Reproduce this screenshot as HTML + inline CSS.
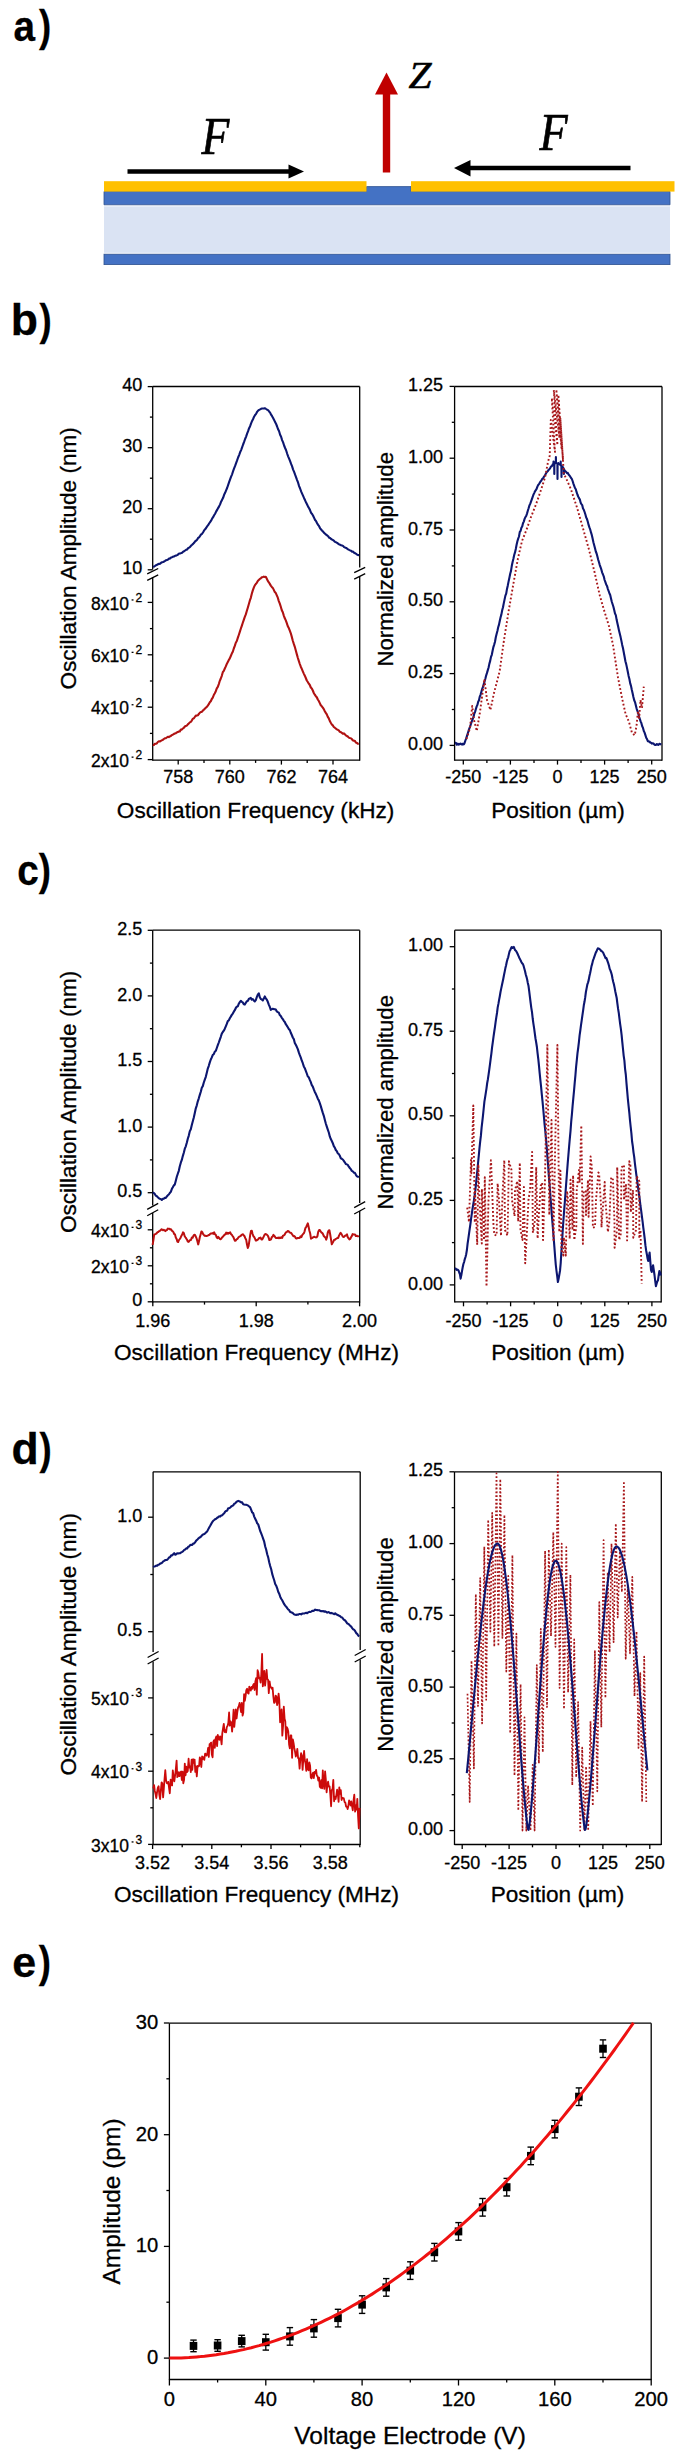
<!DOCTYPE html><html><head><meta charset="utf-8"><style>html,body{margin:0;padding:0;background:#fff;}svg{display:block}</style></head><body>
<svg width="685" height="2457" viewBox="0 0 685 2457" font-family='"Liberation Sans", sans-serif'>
<style>text{stroke:#000;stroke-width:0.3px;}</style>
<rect width="685" height="2457" fill="#fff"/>
<text font-size="43" font-weight="bold" transform="translate(13.4,40.6) scale(0.9,1)">a</text>
<text font-size="44.5" font-weight="bold" transform="translate(39.1,40.6) scale(0.82,1)">)</text>
<text font-size="44.5" font-weight="bold" transform="translate(10.7,335.3) scale(1.0,1)">b</text>
<text font-size="44.5" font-weight="bold" transform="translate(39.4,335.3) scale(0.82,1)">)</text>
<text font-size="43" font-weight="bold" transform="translate(17.2,885.0) scale(0.9,1)">c</text>
<text font-size="44.5" font-weight="bold" transform="translate(38.7,885.0) scale(0.82,1)">)</text>
<text font-size="44.5" font-weight="bold" transform="translate(11.6,1463.5) scale(1.0,1)">d</text>
<text font-size="44.5" font-weight="bold" transform="translate(39.4,1463.5) scale(0.82,1)">)</text>
<text font-size="43" font-weight="bold" transform="translate(12.2,1977.4) scale(1.0,1)">e</text>
<text font-size="44.5" font-weight="bold" transform="translate(38.7,1977.4) scale(0.82,1)">)</text>
<g>
<rect x="104" y="206.4" width="566" height="46.4" fill="#dae3f3"/>
<rect x="104" y="254.2" width="566" height="10.4" fill="#4472c4" stroke="#2f528f" stroke-width="0.8"/>
<path d="M104,191.5 H366.5 V186.6 H411 V191.5 H670 V204.8 H104 Z" fill="#4472c4" stroke="#2f528f" stroke-width="0.8"/>
<rect x="104" y="181.2" width="262.5" height="10.4" fill="#ffc000"/>
<rect x="411" y="181.2" width="263.5" height="10.4" fill="#ffc000"/>
<line x1="127.5" y1="171.5" x2="292" y2="171.5" stroke="#000" stroke-width="4.6"/>
<path d="M304,171.5 L288.5,164.5 L288.5,178.5 Z" fill="#000"/>
<line x1="630.5" y1="168" x2="468" y2="168" stroke="#000" stroke-width="4.6"/>
<path d="M454,168 L470.5,160 L470.5,176.5 Z" fill="#000"/>
<rect x="382.8" y="93" width="7.4" height="79.5" fill="#c00000"/>
<path d="M386.5,72.5 L375,94.5 L398,94.5 Z" fill="#c00000"/>
<text transform="translate(201.4,153.6) scale(0.875,1)" font-family="'Liberation Serif', serif" font-style="italic" font-size="52" style="stroke-width:0.7px">F</text>
<text transform="translate(539.5,149.6) scale(0.885,1)" font-family="'Liberation Serif', serif" font-style="italic" font-size="52" style="stroke-width:0.7px">F</text>
<text transform="translate(408.6,88) scale(1.09,1)" font-family="'Liberation Serif', serif" font-style="italic" font-size="38" style="stroke-width:0.6px">Z</text>
</g>
<line x1="152.7" y1="386.5" x2="359.7" y2="386.5" stroke="#000" stroke-width="1.3"/>
<line x1="152.7" y1="760.1" x2="359.7" y2="760.1" stroke="#000" stroke-width="1.3"/>
<line x1="152.7" y1="386.5" x2="152.7" y2="569.5" stroke="#000" stroke-width="1.3"/>
<line x1="152.7" y1="577" x2="152.7" y2="760.7" stroke="#000" stroke-width="1.3"/>
<line x1="359.7" y1="386.5" x2="359.7" y2="567.5" stroke="#000" stroke-width="1.3"/>
<line x1="359.7" y1="576.5" x2="359.7" y2="760.7" stroke="#000" stroke-width="1.3"/>
<line x1="147.2" y1="573.9" x2="158.2" y2="568.5" stroke="#000" stroke-width="1.3"/>
<line x1="147.2" y1="580.3" x2="158.2" y2="574.9" stroke="#000" stroke-width="1.3"/>
<line x1="354.2" y1="572.7" x2="365.2" y2="567.3" stroke="#000" stroke-width="1.3"/>
<line x1="354.2" y1="579.1" x2="365.2" y2="573.7" stroke="#000" stroke-width="1.3"/>
<line x1="147.7" y1="386.6" x2="152.7" y2="386.6" stroke="#000" stroke-width="1.3"/>
<line x1="147.7" y1="447.7" x2="152.7" y2="447.7" stroke="#000" stroke-width="1.3"/>
<line x1="147.7" y1="508.7" x2="152.7" y2="508.7" stroke="#000" stroke-width="1.3"/>
<line x1="147.7" y1="569.8" x2="152.7" y2="569.8" stroke="#000" stroke-width="1.3"/>
<line x1="149.9" y1="417.1" x2="152.7" y2="417.1" stroke="#000" stroke-width="1.3"/>
<line x1="149.9" y1="478.2" x2="152.7" y2="478.2" stroke="#000" stroke-width="1.3"/>
<line x1="149.9" y1="539.2" x2="152.7" y2="539.2" stroke="#000" stroke-width="1.3"/>
<line x1="147.7" y1="602.4" x2="152.7" y2="602.4" stroke="#000" stroke-width="1.3"/>
<line x1="147.7" y1="654.8" x2="152.7" y2="654.8" stroke="#000" stroke-width="1.3"/>
<line x1="147.7" y1="707.2" x2="152.7" y2="707.2" stroke="#000" stroke-width="1.3"/>
<line x1="147.7" y1="759.6" x2="152.7" y2="759.6" stroke="#000" stroke-width="1.3"/>
<line x1="149.9" y1="628.6" x2="152.7" y2="628.6" stroke="#000" stroke-width="1.3"/>
<line x1="149.9" y1="681" x2="152.7" y2="681" stroke="#000" stroke-width="1.3"/>
<line x1="149.9" y1="733.4" x2="152.7" y2="733.4" stroke="#000" stroke-width="1.3"/>
<text x="142.3" y="391.2" font-size="18.0" text-anchor="end" >40</text>
<text x="142.3" y="452.3" font-size="18.0" text-anchor="end" >30</text>
<text x="142.3" y="513.3" font-size="18.0" text-anchor="end" >20</text>
<text x="142.3" y="574.4" font-size="18.0" text-anchor="end" >10</text>
<text x="129" y="609.5" font-size="17.5" text-anchor="end">8x10</text>
<rect x="131.6" y="599.3" width="1.9" height="1.3" fill="#000"/>
<text x="135.4" y="601.9" font-size="12">2</text>
<text x="129" y="661.9" font-size="17.5" text-anchor="end">6x10</text>
<rect x="131.6" y="651.7" width="1.9" height="1.3" fill="#000"/>
<text x="135.4" y="654.3" font-size="12">2</text>
<text x="129" y="714.3" font-size="17.5" text-anchor="end">4x10</text>
<rect x="131.6" y="704.1" width="1.9" height="1.3" fill="#000"/>
<text x="135.4" y="706.7" font-size="12">2</text>
<text x="129" y="766.7" font-size="17.5" text-anchor="end">2x10</text>
<rect x="131.6" y="756.5" width="1.9" height="1.3" fill="#000"/>
<text x="135.4" y="759.1" font-size="12">2</text>
<line x1="178.2" y1="760.1" x2="178.2" y2="764.6" stroke="#000" stroke-width="1.3"/>
<line x1="229.8" y1="760.1" x2="229.8" y2="764.6" stroke="#000" stroke-width="1.3"/>
<line x1="281.4" y1="760.1" x2="281.4" y2="764.6" stroke="#000" stroke-width="1.3"/>
<line x1="333" y1="760.1" x2="333" y2="764.6" stroke="#000" stroke-width="1.3"/>
<line x1="204" y1="760.1" x2="204" y2="762.9" stroke="#000" stroke-width="1.3"/>
<line x1="255.6" y1="760.1" x2="255.6" y2="762.9" stroke="#000" stroke-width="1.3"/>
<line x1="307.2" y1="760.1" x2="307.2" y2="762.9" stroke="#000" stroke-width="1.3"/>
<text x="178.2" y="783.4" font-size="18.0" text-anchor="middle" >758</text>
<text x="229.8" y="783.4" font-size="18.0" text-anchor="middle" >760</text>
<text x="281.4" y="783.4" font-size="18.0" text-anchor="middle" >762</text>
<text x="333" y="783.4" font-size="18.0" text-anchor="middle" >764</text>
<text x="255.6" y="817.8" font-size="22.6" text-anchor="middle">Oscillation Frequency (kHz)</text>
<text transform="translate(76.3,558.4) rotate(-90)" x="0" y="0" font-size="22.6" text-anchor="middle">Oscillation Amplitude (nm)</text>
<line x1="454.6" y1="386.5" x2="662" y2="386.5" stroke="#000" stroke-width="1.3"/>
<line x1="454.6" y1="760.1" x2="662" y2="760.1" stroke="#000" stroke-width="1.3"/>
<line x1="454.6" y1="386.5" x2="454.6" y2="760.7" stroke="#000" stroke-width="1.3"/>
<line x1="662" y1="386.5" x2="662" y2="760.7" stroke="#000" stroke-width="1.3"/>
<line x1="449.6" y1="745.4" x2="454.6" y2="745.4" stroke="#000" stroke-width="1.3"/>
<line x1="449.6" y1="673.6" x2="454.6" y2="673.6" stroke="#000" stroke-width="1.3"/>
<line x1="449.6" y1="601.8" x2="454.6" y2="601.8" stroke="#000" stroke-width="1.3"/>
<line x1="449.6" y1="530" x2="454.6" y2="530" stroke="#000" stroke-width="1.3"/>
<line x1="449.6" y1="458.2" x2="454.6" y2="458.2" stroke="#000" stroke-width="1.3"/>
<line x1="449.6" y1="386.4" x2="454.6" y2="386.4" stroke="#000" stroke-width="1.3"/>
<line x1="451.8" y1="709.5" x2="454.6" y2="709.5" stroke="#000" stroke-width="1.3"/>
<line x1="451.8" y1="637.7" x2="454.6" y2="637.7" stroke="#000" stroke-width="1.3"/>
<line x1="451.8" y1="565.9" x2="454.6" y2="565.9" stroke="#000" stroke-width="1.3"/>
<line x1="451.8" y1="494.1" x2="454.6" y2="494.1" stroke="#000" stroke-width="1.3"/>
<line x1="451.8" y1="422.3" x2="454.6" y2="422.3" stroke="#000" stroke-width="1.3"/>
<text x="443" y="750" font-size="18.0" text-anchor="end" >0.00</text>
<text x="443" y="678.2" font-size="18.0" text-anchor="end" >0.25</text>
<text x="443" y="606.4" font-size="18.0" text-anchor="end" >0.50</text>
<text x="443" y="534.6" font-size="18.0" text-anchor="end" >0.75</text>
<text x="443" y="462.8" font-size="18.0" text-anchor="end" >1.00</text>
<text x="443" y="391" font-size="18.0" text-anchor="end" >1.25</text>
<line x1="463.3" y1="760.1" x2="463.3" y2="764.6" stroke="#000" stroke-width="1.3"/>
<line x1="510.4" y1="760.1" x2="510.4" y2="764.6" stroke="#000" stroke-width="1.3"/>
<line x1="557.5" y1="760.1" x2="557.5" y2="764.6" stroke="#000" stroke-width="1.3"/>
<line x1="604.6" y1="760.1" x2="604.6" y2="764.6" stroke="#000" stroke-width="1.3"/>
<line x1="651.7" y1="760.1" x2="651.7" y2="764.6" stroke="#000" stroke-width="1.3"/>
<line x1="486.9" y1="760.1" x2="486.9" y2="762.9" stroke="#000" stroke-width="1.3"/>
<line x1="534" y1="760.1" x2="534" y2="762.9" stroke="#000" stroke-width="1.3"/>
<line x1="581" y1="760.1" x2="581" y2="762.9" stroke="#000" stroke-width="1.3"/>
<line x1="628.1" y1="760.1" x2="628.1" y2="762.9" stroke="#000" stroke-width="1.3"/>
<text x="463.3" y="783.4" font-size="18.0" text-anchor="middle" >-250</text>
<text x="510.4" y="783.4" font-size="18.0" text-anchor="middle" >-125</text>
<text x="557.5" y="783.4" font-size="18.0" text-anchor="middle" >0</text>
<text x="604.6" y="783.4" font-size="18.0" text-anchor="middle" >125</text>
<text x="651.7" y="783.4" font-size="18.0" text-anchor="middle" >250</text>
<text x="557.9" y="817.8" font-size="22.6" text-anchor="middle">Position (µm)</text>
<text transform="translate(392.9,559.3) rotate(-90)" x="0" y="0" font-size="22.2" text-anchor="middle">Normalized amplitude</text>
<line x1="152.7" y1="930.2" x2="359.7" y2="930.2" stroke="#000" stroke-width="1.3"/>
<line x1="152.7" y1="1301.8" x2="359.7" y2="1301.8" stroke="#000" stroke-width="1.3"/>
<line x1="152.7" y1="930.2" x2="152.7" y2="1205.5" stroke="#000" stroke-width="1.3"/>
<line x1="152.7" y1="1213" x2="152.7" y2="1302.4" stroke="#000" stroke-width="1.3"/>
<line x1="359.7" y1="930.2" x2="359.7" y2="1203" stroke="#000" stroke-width="1.3"/>
<line x1="359.7" y1="1211" x2="359.7" y2="1302.4" stroke="#000" stroke-width="1.3"/>
<line x1="147.2" y1="1209.4" x2="158.2" y2="1203.4" stroke="#000" stroke-width="1.3"/>
<line x1="147.2" y1="1215.8" x2="158.2" y2="1209.8" stroke="#000" stroke-width="1.3"/>
<line x1="354.2" y1="1207.6" x2="365.2" y2="1201.6" stroke="#000" stroke-width="1.3"/>
<line x1="354.2" y1="1214" x2="365.2" y2="1208" stroke="#000" stroke-width="1.3"/>
<line x1="147.7" y1="1192.7" x2="152.7" y2="1192.7" stroke="#000" stroke-width="1.3"/>
<line x1="147.7" y1="1127.1" x2="152.7" y2="1127.1" stroke="#000" stroke-width="1.3"/>
<line x1="147.7" y1="1061.5" x2="152.7" y2="1061.5" stroke="#000" stroke-width="1.3"/>
<line x1="147.7" y1="995.9" x2="152.7" y2="995.9" stroke="#000" stroke-width="1.3"/>
<line x1="147.7" y1="930.3" x2="152.7" y2="930.3" stroke="#000" stroke-width="1.3"/>
<line x1="149.9" y1="1159.9" x2="152.7" y2="1159.9" stroke="#000" stroke-width="1.3"/>
<line x1="149.9" y1="1094.3" x2="152.7" y2="1094.3" stroke="#000" stroke-width="1.3"/>
<line x1="149.9" y1="1028.7" x2="152.7" y2="1028.7" stroke="#000" stroke-width="1.3"/>
<line x1="149.9" y1="963.1" x2="152.7" y2="963.1" stroke="#000" stroke-width="1.3"/>
<line x1="147.7" y1="1301.8" x2="152.7" y2="1301.8" stroke="#000" stroke-width="1.3"/>
<line x1="147.7" y1="1265.8" x2="152.7" y2="1265.8" stroke="#000" stroke-width="1.3"/>
<line x1="147.7" y1="1229.8" x2="152.7" y2="1229.8" stroke="#000" stroke-width="1.3"/>
<line x1="149.9" y1="1283.8" x2="152.7" y2="1283.8" stroke="#000" stroke-width="1.3"/>
<line x1="149.9" y1="1247.8" x2="152.7" y2="1247.8" stroke="#000" stroke-width="1.3"/>
<text x="142.3" y="1197.3" font-size="18.0" text-anchor="end" >0.5</text>
<text x="142.3" y="1131.7" font-size="18.0" text-anchor="end" >1.0</text>
<text x="142.3" y="1066.1" font-size="18.0" text-anchor="end" >1.5</text>
<text x="142.3" y="1000.5" font-size="18.0" text-anchor="end" >2.0</text>
<text x="142.3" y="934.9" font-size="18.0" text-anchor="end" >2.5</text>
<text x="129" y="1236.9" font-size="17.5" text-anchor="end">4x10</text>
<rect x="131.6" y="1226.7" width="1.9" height="1.3" fill="#000"/>
<text x="135.4" y="1229.3" font-size="12">3</text>
<text x="129" y="1272.9" font-size="17.5" text-anchor="end">2x10</text>
<rect x="131.6" y="1262.7" width="1.9" height="1.3" fill="#000"/>
<text x="135.4" y="1265.3" font-size="12">3</text>
<text x="142.3" y="1306.4" font-size="18.0" text-anchor="end" >0</text>
<line x1="152.8" y1="1301.8" x2="152.8" y2="1306.3" stroke="#000" stroke-width="1.3"/>
<line x1="256.2" y1="1301.8" x2="256.2" y2="1306.3" stroke="#000" stroke-width="1.3"/>
<line x1="359.6" y1="1301.8" x2="359.6" y2="1306.3" stroke="#000" stroke-width="1.3"/>
<line x1="204.5" y1="1301.8" x2="204.5" y2="1304.6" stroke="#000" stroke-width="1.3"/>
<line x1="307.9" y1="1301.8" x2="307.9" y2="1304.6" stroke="#000" stroke-width="1.3"/>
<text x="152.8" y="1326.7" font-size="18.0" text-anchor="middle" >1.96</text>
<text x="256.2" y="1326.7" font-size="18.0" text-anchor="middle" >1.98</text>
<text x="359.6" y="1326.7" font-size="18.0" text-anchor="middle" >2.00</text>
<text x="256.5" y="1359.7" font-size="22.6" text-anchor="middle">Oscillation Frequency (MHz)</text>
<text transform="translate(76.3,1101.9) rotate(-90)" x="0" y="0" font-size="22.6" text-anchor="middle">Oscillation Amplitude (nm)</text>
<line x1="454.7" y1="930.2" x2="661.2" y2="930.2" stroke="#000" stroke-width="1.3"/>
<line x1="454.7" y1="1301.8" x2="661.2" y2="1301.8" stroke="#000" stroke-width="1.3"/>
<line x1="454.7" y1="930.2" x2="454.7" y2="1302.4" stroke="#000" stroke-width="1.3"/>
<line x1="661.2" y1="930.2" x2="661.2" y2="1302.4" stroke="#000" stroke-width="1.3"/>
<line x1="449.7" y1="1284.9" x2="454.7" y2="1284.9" stroke="#000" stroke-width="1.3"/>
<line x1="449.7" y1="1200.4" x2="454.7" y2="1200.4" stroke="#000" stroke-width="1.3"/>
<line x1="449.7" y1="1115.8" x2="454.7" y2="1115.8" stroke="#000" stroke-width="1.3"/>
<line x1="449.7" y1="1031.2" x2="454.7" y2="1031.2" stroke="#000" stroke-width="1.3"/>
<line x1="449.7" y1="946.7" x2="454.7" y2="946.7" stroke="#000" stroke-width="1.3"/>
<line x1="451.9" y1="1242.6" x2="454.7" y2="1242.6" stroke="#000" stroke-width="1.3"/>
<line x1="451.9" y1="1158.1" x2="454.7" y2="1158.1" stroke="#000" stroke-width="1.3"/>
<line x1="451.9" y1="1073.5" x2="454.7" y2="1073.5" stroke="#000" stroke-width="1.3"/>
<line x1="451.9" y1="989" x2="454.7" y2="989" stroke="#000" stroke-width="1.3"/>
<text x="443" y="1289.5" font-size="18.0" text-anchor="end" >0.00</text>
<text x="443" y="1205" font-size="18.0" text-anchor="end" >0.25</text>
<text x="443" y="1120.4" font-size="18.0" text-anchor="end" >0.50</text>
<text x="443" y="1035.8" font-size="18.0" text-anchor="end" >0.75</text>
<text x="443" y="951.3" font-size="18.0" text-anchor="end" >1.00</text>
<line x1="463.5" y1="1301.8" x2="463.5" y2="1306.3" stroke="#000" stroke-width="1.3"/>
<line x1="510.6" y1="1301.8" x2="510.6" y2="1306.3" stroke="#000" stroke-width="1.3"/>
<line x1="557.7" y1="1301.8" x2="557.7" y2="1306.3" stroke="#000" stroke-width="1.3"/>
<line x1="604.8" y1="1301.8" x2="604.8" y2="1306.3" stroke="#000" stroke-width="1.3"/>
<line x1="651.9" y1="1301.8" x2="651.9" y2="1306.3" stroke="#000" stroke-width="1.3"/>
<line x1="487.1" y1="1301.8" x2="487.1" y2="1304.6" stroke="#000" stroke-width="1.3"/>
<line x1="534.2" y1="1301.8" x2="534.2" y2="1304.6" stroke="#000" stroke-width="1.3"/>
<line x1="581.2" y1="1301.8" x2="581.2" y2="1304.6" stroke="#000" stroke-width="1.3"/>
<line x1="628.4" y1="1301.8" x2="628.4" y2="1304.6" stroke="#000" stroke-width="1.3"/>
<text x="463.5" y="1326.9" font-size="18.0" text-anchor="middle" >-250</text>
<text x="510.6" y="1326.9" font-size="18.0" text-anchor="middle" >-125</text>
<text x="557.7" y="1326.9" font-size="18.0" text-anchor="middle" >0</text>
<text x="604.8" y="1326.9" font-size="18.0" text-anchor="middle" >125</text>
<text x="651.9" y="1326.9" font-size="18.0" text-anchor="middle" >250</text>
<text x="557.9" y="1360.3" font-size="22.6" text-anchor="middle">Position (µm)</text>
<text transform="translate(392.9,1102.3) rotate(-90)" x="0" y="0" font-size="22.2" text-anchor="middle">Normalized amplitude</text>
<line x1="153.1" y1="1471.8" x2="360.2" y2="1471.8" stroke="#000" stroke-width="1.3"/>
<line x1="153.1" y1="1844.5" x2="360.2" y2="1844.5" stroke="#000" stroke-width="1.3"/>
<line x1="153.1" y1="1471.8" x2="153.1" y2="1652" stroke="#000" stroke-width="1.3"/>
<line x1="153.1" y1="1661.5" x2="153.1" y2="1845.1" stroke="#000" stroke-width="1.3"/>
<line x1="360.2" y1="1471.8" x2="360.2" y2="1650" stroke="#000" stroke-width="1.3"/>
<line x1="360.2" y1="1659.5" x2="360.2" y2="1845.1" stroke="#000" stroke-width="1.3"/>
<line x1="147.6" y1="1657.5" x2="158.6" y2="1651.5" stroke="#000" stroke-width="1.3"/>
<line x1="147.6" y1="1664" x2="158.6" y2="1658" stroke="#000" stroke-width="1.3"/>
<line x1="354.7" y1="1655.5" x2="365.7" y2="1649.5" stroke="#000" stroke-width="1.3"/>
<line x1="354.7" y1="1662" x2="365.7" y2="1656" stroke="#000" stroke-width="1.3"/>
<line x1="148.1" y1="1631.7" x2="153.1" y2="1631.7" stroke="#000" stroke-width="1.3"/>
<line x1="148.1" y1="1517.2" x2="153.1" y2="1517.2" stroke="#000" stroke-width="1.3"/>
<line x1="150.3" y1="1574.5" x2="153.1" y2="1574.5" stroke="#000" stroke-width="1.3"/>
<line x1="148.1" y1="1844.4" x2="153.1" y2="1844.4" stroke="#000" stroke-width="1.3"/>
<line x1="148.1" y1="1771.2" x2="153.1" y2="1771.2" stroke="#000" stroke-width="1.3"/>
<line x1="148.1" y1="1697.9" x2="153.1" y2="1697.9" stroke="#000" stroke-width="1.3"/>
<line x1="150.3" y1="1807.8" x2="153.1" y2="1807.8" stroke="#000" stroke-width="1.3"/>
<line x1="150.3" y1="1734.5" x2="153.1" y2="1734.5" stroke="#000" stroke-width="1.3"/>
<text x="142.3" y="1636.3" font-size="18.0" text-anchor="end" >0.5</text>
<text x="142.3" y="1521.8" font-size="18.0" text-anchor="end" >1.0</text>
<text x="129" y="1705" font-size="17.5" text-anchor="end">5x10</text>
<rect x="131.6" y="1694.8" width="1.9" height="1.3" fill="#000"/>
<text x="135.4" y="1697.4" font-size="12">3</text>
<text x="129" y="1778.2" font-size="17.5" text-anchor="end">4x10</text>
<rect x="131.6" y="1768.1" width="1.9" height="1.3" fill="#000"/>
<text x="135.4" y="1770.7" font-size="12">3</text>
<text x="129" y="1851.5" font-size="17.5" text-anchor="end">3x10</text>
<rect x="131.6" y="1841.3" width="1.9" height="1.3" fill="#000"/>
<text x="135.4" y="1843.9" font-size="12">3</text>
<line x1="152.6" y1="1844.5" x2="152.6" y2="1849" stroke="#000" stroke-width="1.3"/>
<line x1="211.8" y1="1844.5" x2="211.8" y2="1849" stroke="#000" stroke-width="1.3"/>
<line x1="271" y1="1844.5" x2="271" y2="1849" stroke="#000" stroke-width="1.3"/>
<line x1="330.2" y1="1844.5" x2="330.2" y2="1849" stroke="#000" stroke-width="1.3"/>
<line x1="182.2" y1="1844.5" x2="182.2" y2="1847.3" stroke="#000" stroke-width="1.3"/>
<line x1="241.4" y1="1844.5" x2="241.4" y2="1847.3" stroke="#000" stroke-width="1.3"/>
<line x1="300.6" y1="1844.5" x2="300.6" y2="1847.3" stroke="#000" stroke-width="1.3"/>
<line x1="359.8" y1="1844.5" x2="359.8" y2="1847.3" stroke="#000" stroke-width="1.3"/>
<text x="152.6" y="1868.8" font-size="18.0" text-anchor="middle" >3.52</text>
<text x="211.8" y="1868.8" font-size="18.0" text-anchor="middle" >3.54</text>
<text x="271" y="1868.8" font-size="18.0" text-anchor="middle" >3.56</text>
<text x="330.2" y="1868.8" font-size="18.0" text-anchor="middle" >3.58</text>
<text x="256.5" y="1902.3" font-size="22.6" text-anchor="middle">Oscillation Frequency (MHz)</text>
<text transform="translate(76.3,1644.3) rotate(-90)" x="0" y="0" font-size="22.6" text-anchor="middle">Oscillation Amplitude (nm)</text>
<line x1="454.5" y1="1471.8" x2="661.3" y2="1471.8" stroke="#000" stroke-width="1.3"/>
<line x1="454.5" y1="1844.5" x2="661.3" y2="1844.5" stroke="#000" stroke-width="1.3"/>
<line x1="454.5" y1="1471.8" x2="454.5" y2="1845.1" stroke="#000" stroke-width="1.3"/>
<line x1="661.3" y1="1471.8" x2="661.3" y2="1845.1" stroke="#000" stroke-width="1.3"/>
<line x1="449.5" y1="1830.6" x2="454.5" y2="1830.6" stroke="#000" stroke-width="1.3"/>
<line x1="449.5" y1="1758.8" x2="454.5" y2="1758.8" stroke="#000" stroke-width="1.3"/>
<line x1="449.5" y1="1687.1" x2="454.5" y2="1687.1" stroke="#000" stroke-width="1.3"/>
<line x1="449.5" y1="1615.3" x2="454.5" y2="1615.3" stroke="#000" stroke-width="1.3"/>
<line x1="449.5" y1="1543.6" x2="454.5" y2="1543.6" stroke="#000" stroke-width="1.3"/>
<line x1="449.5" y1="1471.8" x2="454.5" y2="1471.8" stroke="#000" stroke-width="1.3"/>
<line x1="451.7" y1="1794.7" x2="454.5" y2="1794.7" stroke="#000" stroke-width="1.3"/>
<line x1="451.7" y1="1723" x2="454.5" y2="1723" stroke="#000" stroke-width="1.3"/>
<line x1="451.7" y1="1651.2" x2="454.5" y2="1651.2" stroke="#000" stroke-width="1.3"/>
<line x1="451.7" y1="1579.5" x2="454.5" y2="1579.5" stroke="#000" stroke-width="1.3"/>
<line x1="451.7" y1="1507.7" x2="454.5" y2="1507.7" stroke="#000" stroke-width="1.3"/>
<text x="443" y="1835.2" font-size="18.0" text-anchor="end" >0.00</text>
<text x="443" y="1763.4" font-size="18.0" text-anchor="end" >0.25</text>
<text x="443" y="1691.7" font-size="18.0" text-anchor="end" >0.50</text>
<text x="443" y="1619.9" font-size="18.0" text-anchor="end" >0.75</text>
<text x="443" y="1548.2" font-size="18.0" text-anchor="end" >1.00</text>
<text x="443" y="1476.4" font-size="18.0" text-anchor="end" >1.25</text>
<line x1="462.2" y1="1844.5" x2="462.2" y2="1849" stroke="#000" stroke-width="1.3"/>
<line x1="509.1" y1="1844.5" x2="509.1" y2="1849" stroke="#000" stroke-width="1.3"/>
<line x1="556" y1="1844.5" x2="556" y2="1849" stroke="#000" stroke-width="1.3"/>
<line x1="602.9" y1="1844.5" x2="602.9" y2="1849" stroke="#000" stroke-width="1.3"/>
<line x1="649.8" y1="1844.5" x2="649.8" y2="1849" stroke="#000" stroke-width="1.3"/>
<line x1="485.6" y1="1844.5" x2="485.6" y2="1847.3" stroke="#000" stroke-width="1.3"/>
<line x1="532.5" y1="1844.5" x2="532.5" y2="1847.3" stroke="#000" stroke-width="1.3"/>
<line x1="579.5" y1="1844.5" x2="579.5" y2="1847.3" stroke="#000" stroke-width="1.3"/>
<line x1="626.4" y1="1844.5" x2="626.4" y2="1847.3" stroke="#000" stroke-width="1.3"/>
<text x="462.2" y="1868.6" font-size="18.0" text-anchor="middle" >-250</text>
<text x="509.1" y="1868.6" font-size="18.0" text-anchor="middle" >-125</text>
<text x="556" y="1868.6" font-size="18.0" text-anchor="middle" >0</text>
<text x="602.9" y="1868.6" font-size="18.0" text-anchor="middle" >125</text>
<text x="649.8" y="1868.6" font-size="18.0" text-anchor="middle" >250</text>
<text x="557.5" y="1902.3" font-size="22.6" text-anchor="middle">Position (µm)</text>
<text transform="translate(392.9,1644.5) rotate(-90)" x="0" y="0" font-size="22.2" text-anchor="middle">Normalized amplitude</text>
<line x1="169.4" y1="2023.2" x2="651.2" y2="2023.2" stroke="#000" stroke-width="1.3"/>
<line x1="169.4" y1="2379.5" x2="651.2" y2="2379.5" stroke="#000" stroke-width="1.3"/>
<line x1="169.4" y1="2023.2" x2="169.4" y2="2380.1" stroke="#000" stroke-width="1.3"/>
<line x1="651.2" y1="2023.2" x2="651.2" y2="2380.1" stroke="#000" stroke-width="1.3"/>
<line x1="163.9" y1="2358.1" x2="169.4" y2="2358.1" stroke="#000" stroke-width="1.3"/>
<line x1="163.9" y1="2246.4" x2="169.4" y2="2246.4" stroke="#000" stroke-width="1.3"/>
<line x1="163.9" y1="2134.7" x2="169.4" y2="2134.7" stroke="#000" stroke-width="1.3"/>
<line x1="163.9" y1="2023" x2="169.4" y2="2023" stroke="#000" stroke-width="1.3"/>
<line x1="166.4" y1="2302.2" x2="169.4" y2="2302.2" stroke="#000" stroke-width="1.3"/>
<line x1="166.4" y1="2190.5" x2="169.4" y2="2190.5" stroke="#000" stroke-width="1.3"/>
<line x1="166.4" y1="2078.8" x2="169.4" y2="2078.8" stroke="#000" stroke-width="1.3"/>
<text x="158.3" y="2364" font-size="20.2" text-anchor="end" >0</text>
<text x="158.3" y="2252.3" font-size="20.2" text-anchor="end" >10</text>
<text x="158.3" y="2140.6" font-size="20.2" text-anchor="end" >20</text>
<text x="158.3" y="2028.9" font-size="20.2" text-anchor="end" >30</text>
<line x1="169.4" y1="2379.5" x2="169.4" y2="2385.5" stroke="#000" stroke-width="1.3"/>
<line x1="265.8" y1="2379.5" x2="265.8" y2="2385.5" stroke="#000" stroke-width="1.3"/>
<line x1="362.1" y1="2379.5" x2="362.1" y2="2385.5" stroke="#000" stroke-width="1.3"/>
<line x1="458.5" y1="2379.5" x2="458.5" y2="2385.5" stroke="#000" stroke-width="1.3"/>
<line x1="554.8" y1="2379.5" x2="554.8" y2="2385.5" stroke="#000" stroke-width="1.3"/>
<line x1="651.2" y1="2379.5" x2="651.2" y2="2385.5" stroke="#000" stroke-width="1.3"/>
<line x1="217.6" y1="2379.5" x2="217.6" y2="2382.5" stroke="#000" stroke-width="1.3"/>
<line x1="313.9" y1="2379.5" x2="313.9" y2="2382.5" stroke="#000" stroke-width="1.3"/>
<line x1="410.3" y1="2379.5" x2="410.3" y2="2382.5" stroke="#000" stroke-width="1.3"/>
<line x1="506.7" y1="2379.5" x2="506.7" y2="2382.5" stroke="#000" stroke-width="1.3"/>
<line x1="603" y1="2379.5" x2="603" y2="2382.5" stroke="#000" stroke-width="1.3"/>
<text x="169.4" y="2406.2" font-size="20.2" text-anchor="middle" >0</text>
<text x="265.8" y="2406.2" font-size="20.2" text-anchor="middle" >40</text>
<text x="362.1" y="2406.2" font-size="20.2" text-anchor="middle" >80</text>
<text x="458.5" y="2406.2" font-size="20.2" text-anchor="middle" >120</text>
<text x="554.8" y="2406.2" font-size="20.2" text-anchor="middle" >160</text>
<text x="651.2" y="2406.2" font-size="20.2" text-anchor="middle" >200</text>
<text x="410.1" y="2443.6" font-size="24.5" text-anchor="middle">Voltage Electrode (V)</text>
<text transform="translate(119.8,2201.5) rotate(-90)" x="0" y="0" font-size="24.5" text-anchor="middle">Amplitude (pm)</text>
<polyline points="153.1,567 154.1,566.5 155.1,565.9 156.1,565.2 157.1,564.8 158.1,564.1 159.1,563.9 160.1,563.7 161.1,562.7 162.1,562.2 163.1,562 164.1,561.5 165.1,560.9 166.1,560.2 167.1,559.9 168.1,559.6 169.1,558.6 170.1,558.4 171.1,557.5 172.1,557.2 173.1,556.6 174.1,556.5 175.1,555.7 176.1,555.6 177.1,555.1 178.1,554.5 179.1,553.5 180.1,553.5 181.1,553.1 182.1,552.7 183.1,551.7 184.1,551.3 185.1,550.5 186.1,549.8 187.1,549.5 188.1,548.2 189.1,547.6 190.1,546.9 191.1,545.6 192.1,544.8 193.1,543.9 194.1,542.8 195.1,541.4 196.1,540.6 197.1,539.8 198.1,537.9 199.1,537.3 200.1,535.9 201.1,534.4 202.1,533.8 203.1,532.2 204.1,530.4 205.1,529.3 206.1,528 207.1,526.4 208.1,525.2 209.1,523.5 210.1,522.1 211.1,520.7 212.1,518.6 213.1,517.2 214.1,515.3 215.1,513.7 216.1,511.6 217.1,509.9 218.1,508.1 219.1,506.4 220.1,504.4 221.1,501.7 222.1,499.7 223.1,497.8 224.1,494.8 225.1,492.8 226.1,490.3 227.1,488 228.1,485.1 229.1,482.1 230.1,479.3 231.1,476.6 232.1,474.3 233.1,471.1 234.1,468.4 235.1,465.9 236.1,463.1 237.1,460.4 238.1,457.5 239.1,455.1 240.1,452.3 241.1,450.1 242.1,447.3 243.1,444.5 244.1,441.9 245.1,439 246.1,436.6 247.1,433.7 248.1,431.2 249.1,428.2 250.1,426.2 251.1,423.3 252.1,420.9 253.1,419 254.1,416.7 255.1,415 256.1,413.9 257.1,411.8 258.1,410.6 259.1,409.9 260.1,409.4 261.1,408.8 262.1,408.5 263.1,408.5 264.1,408.4 265.1,408.2 266.1,409 267.1,409.7 268.1,410.1 269.1,411.5 270.1,412.6 271.1,414.7 272.1,416.2 273.1,418 274.1,419.9 275.1,422.1 276.1,423.9 277.1,426.5 278.1,429.3 279.1,431.3 280.1,434.7 281.1,436.7 282.1,440.1 283.1,442.4 284.1,445.5 285.1,448 286.1,450.2 287.1,453.5 288.1,456.3 289.1,458.6 290.1,461.2 291.1,463.9 292.1,466.4 293.1,469.6 294.1,471.9 295.1,474.7 296.1,477.3 297.1,480.1 298.1,482.7 299.1,486.1 300.1,488.5 301.1,491.4 302.1,493.7 303.1,495.9 304.1,498.2 305.1,500.3 306.1,502.6 307.1,504.5 308.1,506.6 309.1,508.2 310.1,510.3 311.1,512.8 312.1,514 313.1,515.7 314.1,517.9 315.1,520 316.1,521.2 317.1,523.2 318.1,524.9 319.1,526.2 320.1,528.3 321.1,529.5 322.1,530.7 323.1,531.6 324.1,532.9 325.1,533.7 326.1,534.7 327.1,535.4 328.1,536.2 329.1,537.7 330.1,538 331.1,539 332.1,539.6 333.1,540.2 334.1,540.9 335.1,541.9 336.1,542.3 337.1,542.9 338.1,543.6 339.1,544.4 340.1,544.8 341.1,545.3 342.1,545.6 343.1,545.9 344.1,547.1 345.1,547.6 346.1,547.9 347.1,548.6 348.1,549.3 349.1,549.9 350.1,550.4 351.1,550.7 352.1,551.7 353.1,551.6 354.1,552.7 355.1,553.2 356.1,553.8 357.1,554.6 358.1,555.1 359.1,555" fill="none" stroke="#0c1670" stroke-width="2.1" stroke-linejoin="round" />
<polyline points="152.8,744.8 153.8,745.1 154.8,743.9 155.8,743.7 156.8,743.4 157.8,742 158.8,741.3 159.8,741.5 160.8,740.9 161.8,740.3 162.8,739.9 163.8,739 164.8,738.3 165.8,738.3 166.8,737.5 167.8,736.8 168.8,737.1 169.8,736.4 170.8,736.1 171.8,735.1 172.8,734.7 173.8,734 174.8,733.5 175.8,733.3 176.8,732.4 177.8,732.1 178.8,731.5 179.8,731.4 180.8,729.5 181.8,729.6 182.8,728.5 183.8,727.8 184.8,726.5 185.8,726 186.8,725.6 187.8,724.4 188.8,723.5 189.8,722.4 190.8,721.9 191.8,720.6 192.8,718.8 193.8,718.4 194.8,717 195.8,715.6 196.8,715.6 197.8,715.3 198.8,714 199.8,712.8 200.8,712 201.8,711.9 202.8,710.6 203.8,709.7 204.8,708.7 205.8,707.7 206.8,706.9 207.8,705.6 208.8,704.2 209.8,702.3 210.8,701.2 211.8,699 212.8,697.7 213.8,695 214.8,693.3 215.8,691.2 216.8,688.3 217.8,686.8 218.8,684.1 219.8,680.8 220.8,678.5 221.8,675.8 222.8,672.2 223.8,670.8 224.8,668.5 225.8,666.4 226.8,663.9 227.8,662.1 228.8,660 229.8,658.4 230.8,656 231.8,653.6 232.8,651.7 233.8,648.5 234.8,645.9 235.8,642.7 236.8,641 237.8,637.9 238.8,635 239.8,631.9 240.8,628.8 241.8,625.9 242.8,622.8 243.8,619.8 244.8,616.9 245.8,614.4 246.8,611 247.8,607.7 248.8,604.3 249.8,600.7 250.8,597.8 251.8,593.8 252.8,590.4 253.8,587.6 254.8,585.4 255.8,584 256.8,582.8 257.8,581 258.8,579.9 259.8,578.9 260.8,578.4 261.8,577.2 262.8,577.2 263.8,576.6 264.8,577 265.8,576.8 266.8,578.7 267.8,580.9 268.8,582.3 269.8,583.9 270.8,585.6 271.8,586.9 272.8,587.9 273.8,589.9 274.8,592.1 275.8,593.1 276.8,595.4 277.8,597.7 278.8,601.1 279.8,603.6 280.8,606.7 281.8,610.3 282.8,612.3 283.8,615.6 284.8,618.3 285.8,620.4 286.8,623.1 287.8,626.2 288.8,628.1 289.8,630.7 290.8,633.3 291.8,636.9 292.8,640.7 293.8,643.9 294.8,646.8 295.8,650.5 296.8,654.1 297.8,657.8 298.8,660.9 299.8,664 300.8,666.7 301.8,668.9 302.8,671.3 303.8,673.6 304.8,675.7 305.8,678 306.8,680.5 307.8,682 308.8,683.7 309.8,685 310.8,687.5 311.8,688.5 312.8,690.5 313.8,693 314.8,694.7 315.8,696.2 316.8,697.3 317.8,699.5 318.8,701 319.8,703.1 320.8,705.3 321.8,706.3 322.8,707.6 323.8,709.1 324.8,711.2 325.8,712.9 326.8,714.4 327.8,716.8 328.8,718.3 329.8,721 330.8,722.8 331.8,724.5 332.8,725.4 333.8,727 334.8,727.7 335.8,728.5 336.8,729.4 337.8,729.8 338.8,730.4 339.8,731.8 340.8,732.1 341.8,732.8 342.8,733.7 343.8,733.4 344.8,734.3 345.8,735.3 346.8,736 347.8,736.5 348.8,737.6 349.8,738 350.8,738.2 351.8,739 352.8,740.3 353.8,740.8 354.8,740.7 355.8,742.5 356.8,742.9 357.8,743.8 358.8,743.9" fill="none" stroke="#b01212" stroke-width="2.1" stroke-linejoin="round" />
<polyline points="455,742.7 455.8,742.7 456.6,744.7 457.4,743.7 458.2,744.7 459,743.8 459.8,744.3 460.6,743.5 461.4,744.1 462.2,744.7 463,743.7 463.8,744.4 464.6,742.9 465.4,740.5 466.2,738.4 467,735.9 467.8,733.4 468.6,730.7 469.4,728.3 470.2,726.3 471,723.7 471.8,721.3 472.6,719.4 473.4,717.4 474.2,713.9 475,712.1 475.8,709.3 476.6,706.6 477.4,704.9 478.2,701.8 479,700.2 479.8,696.6 480.6,694.6 481.4,691.7 482.2,688.9 483,686.9 483.8,683.9 484.6,681.6 485.4,678.6 486.2,675.3 487,672.9 487.8,670.1 488.6,667.5 489.4,663.6 490.2,660.9 491,656.9 491.8,654.8 492.6,650.7 493.4,647.1 494.2,644.6 495,641.8 495.8,637.2 496.6,634.1 497.4,630.9 498.2,627.3 499,624.6 499.8,620.7 500.6,617.3 501.4,614.4 502.2,610.3 503,607.3 503.8,603.1 504.6,599.4 505.4,595.6 506.2,593.6 507,588.9 507.8,585.4 508.6,581.4 509.4,577.7 510.2,573.8 511,570.9 511.8,565.8 512.6,562 513.4,558.7 514.2,555 515,552.4 515.8,548.9 516.6,544.7 517.4,541.2 518.2,538.6 519,536.5 519.8,531.9 520.6,530.9 521.4,527.8 522.2,526.5 523,523.3 523.8,521.6 524.6,518.9 525.4,517.1 526.2,516 527,513.6 527.8,510.8 528.6,508.3 529.4,505.5 530.2,503.9 531,501.7 531.8,499.4 532.6,497.2 533.4,494.7 534.2,493.1 535,491.3 535.8,490.2 536.6,488.9 537.4,486.6 538.2,485 539,484.1 539.8,482.7 540.6,481.4 541.4,480.6 542.2,478.9 543,478.4 543.8,476.9 544.6,475.8 545.4,474.5 546.2,473 547,471.8 547.8,471.1 548.6,469.9 549.4,469.2 550.2,468.1 551,466.6 551.8,466.3 552.6,464.6 553.4,463.8 553.5,461.5 553.6,463.8 554.2,463.2 554.3,474 554.4,463.2 555,462.1 555.8,463.1 555.9,457 556,463.1 556.6,463.3 557.4,463.5 557.5,479 557.6,463.5 558.2,463.7 558.3,463 558.4,463.7 559,464.1 559.8,464.3 560.6,465.2 560.7,461.5 560.8,465.2 561.4,465.7 561.5,477 561.6,465.7 562.2,466.7 562.3,466.5 562.4,466.7 563,467.2 563.8,469.1 563.9,474 564,469.1 564.6,470.3 565.4,471.3 566.2,472 567,473.2 567.8,472.9 568.6,474.6 569.4,475.4 570.2,476.5 571,477.9 571.8,478.9 572.6,481 573.4,483.6 574.2,485.8 575,488 575.8,489.3 576.6,492.2 577.4,494.5 578.2,496.5 579,498.1 579.8,499.3 580.6,502.5 581.4,504.1 582.2,505.1 583,508.5 583.8,509.8 584.6,512 585.4,514.5 586.2,517.6 587,519.1 587.8,521.8 588.6,524.9 589.4,527.4 590.2,529.4 591,532.4 591.8,535 592.6,538.5 593.4,542.2 594.2,545.3 595,548.2 595.8,551.5 596.6,553.5 597.4,556.6 598.2,559.7 599,562.3 599.8,565.1 600.6,567.4 601.4,569.7 602.2,572.6 603,574.5 603.8,576.6 604.6,580 605.4,582.1 606.2,584.5 607,585.9 607.8,588.8 608.6,591 609.4,593.2 610.2,595 611,598.4 611.8,601.7 612.6,604.2 613.4,606.7 614.2,610 615,613.5 615.8,615.1 616.6,619.6 617.4,623.2 618.2,626.7 619,630.6 619.8,633.8 620.6,637.1 621.4,640.9 622.2,644.9 623,648.3 623.8,652.5 624.6,656.8 625.4,661.2 626.2,664.1 627,667.9 627.8,671.7 628.6,675.9 629.4,679 630.2,683.4 631,685.9 631.8,689.8 632.6,693.2 633.4,697 634.2,700.3 635,702.1 635.8,705.3 636.6,708.6 637.4,710.8 638.2,713 639,716.7 639.8,718.9 640.6,721.3 641.4,723.2 642.2,726.2 643,727.9 643.8,731 644.6,732.6 645.4,735.1 646.2,737.7 647,739.1 647.8,741 648.6,741.5 649.4,741.5 650.2,742.5 651,742.7 651.8,743.6 652.6,743.2 653.4,743.5 654.2,744.4 655,745 655.8,745 656.6,744.1 657.4,744.3 658.2,744.9 659,744.2 659.8,743.8 660.6,744.3 661.4,744.5" fill="none" stroke="#0c1670" stroke-width="2.1" stroke-linejoin="round" />
<polyline points="466.5,739 470,728 472.2,706 474,720 476.8,731 480,712 484.4,679 487,700 490.4,710 494,693 499.6,671.5 504,640 508.7,610.7 513,586 517.8,559.1 522,541 526.9,528.7 531,517 536,504.4 541,490 545.1,477.1 548,462 549.7,455.8 550.8,420 555,452 551.8,398 557.5,445 553.8,390 559.5,438 556.3,389.5 561.5,448 558.3,395 563,460 560.3,418 563.8,474 566,478 570.9,489.2 577,507.5 583.1,528.7 589.1,550 594.5,572 599.8,595.5 604,610 608.9,625.9 613,645 618,677.5 622,698 625.6,714 629,722 632,733 634.7,735.3 636.5,726 638,711 639.2,718 640.5,700 642,708 643.8,686.7" fill="none" stroke="#a8171a" stroke-width="1.9" stroke-linejoin="round" stroke-dasharray="1.8 2.2" stroke-linecap="butt"/>
<polyline points="152.8,1192.4 153.8,1193 154.8,1194 155.8,1195.8 156.8,1196.1 157.8,1197.3 158.8,1198.1 159.8,1198.8 160.8,1199 161.8,1200 162.8,1198.9 163.8,1198.7 164.8,1197.8 165.8,1198 166.8,1196.5 167.8,1195.3 168.8,1194.5 169.8,1193 170.8,1191.8 171.8,1189.1 172.8,1187.3 173.8,1185.4 174.8,1184.6 175.8,1180.8 176.8,1176.8 177.8,1173.7 178.8,1170.8 179.8,1166.3 180.8,1162.7 181.8,1159.9 182.8,1156.1 183.8,1152.7 184.8,1148.7 185.8,1146.3 186.8,1142.7 187.8,1138.7 188.8,1135.6 189.8,1131.2 190.8,1129.3 191.8,1124.9 192.8,1121.2 193.8,1117.4 194.8,1112.9 195.8,1108.3 196.8,1105.3 197.8,1101.3 198.8,1098.3 199.8,1094.9 200.8,1091.8 201.8,1087.7 202.8,1086.1 203.8,1082.5 204.8,1079.6 205.8,1076.8 206.8,1072.7 207.8,1068.6 208.8,1065.8 209.8,1062.4 210.8,1059.5 211.8,1057.4 212.8,1054.8 213.8,1054.2 214.8,1051.7 215.8,1050.8 216.8,1048 217.8,1045.2 218.8,1042.5 219.8,1039.6 220.8,1036.8 221.8,1033.6 222.8,1032 223.8,1030.7 224.8,1028.7 225.8,1026.3 226.8,1023.9 227.8,1021.1 228.8,1020.4 229.8,1018.2 230.8,1016.6 231.8,1014.9 232.8,1013.6 233.8,1011.7 234.8,1010.2 235.8,1008 236.8,1006.7 237.8,1006.3 238.8,1003.7 239.8,1002.1 240.8,1000.8 241.8,1001.8 242.8,1002.4 243.8,1004.3 244.8,1004.6 245.8,1002.8 246.8,1001.3 247.8,1000.9 248.8,999 249.8,998.4 250.8,997.9 251.8,999.7 252.8,999 253.8,1000.4 254.8,1001.4 255.8,1000.1 256.8,997.2 257.8,994.6 258.8,993.3 259.8,997.3 260.8,999 261.8,999.4 262.8,1000.4 263.8,998.6 264.8,996.4 265.8,998.3 266.8,999.6 267.8,1001.8 268.8,1004.6 269.8,1006.9 270.8,1009.8 271.8,1009.1 272.8,1008.7 273.8,1009.1 274.8,1009.2 275.8,1009.5 276.8,1011.4 277.8,1012.1 278.8,1012.7 279.8,1015.1 280.8,1016.1 281.8,1017.8 282.8,1019.1 283.8,1020.8 284.8,1022 285.8,1024.2 286.8,1025.6 287.8,1027.3 288.8,1029.1 289.8,1030 290.8,1032.8 291.8,1035 292.8,1037.5 293.8,1039.1 294.8,1042.9 295.8,1044.8 296.8,1046.8 297.8,1049.1 298.8,1052.4 299.8,1055.2 300.8,1057.6 301.8,1060.7 302.8,1063.2 303.8,1066.4 304.8,1068.2 305.8,1070.8 306.8,1073.5 307.8,1076.5 308.8,1077.3 309.8,1079.9 310.8,1082.1 311.8,1085.2 312.8,1086.7 313.8,1089.4 314.8,1091.9 315.8,1093.8 316.8,1096.1 317.8,1098.7 318.8,1100.4 319.8,1103.2 320.8,1106.1 321.8,1109.6 322.8,1112.9 323.8,1115.8 324.8,1119.7 325.8,1123.5 326.8,1126.6 327.8,1129.6 328.8,1132.5 329.8,1136.4 330.8,1139.1 331.8,1141 332.8,1143.2 333.8,1146.2 334.8,1147.6 335.8,1150 336.8,1151.2 337.8,1153.3 338.8,1154 339.8,1155.7 340.8,1158.3 341.8,1158.8 342.8,1159.5 343.8,1160.9 344.8,1162.3 345.8,1164 346.8,1164.4 347.8,1164.9 348.8,1166.7 349.8,1168 350.8,1169.2 351.8,1170.9 352.8,1171.4 353.8,1172.6 354.8,1172.8 355.8,1174.6 356.8,1176.2 357.8,1176.6 358.8,1177.3" fill="none" stroke="#0c1670" stroke-width="2.1" stroke-linejoin="round" />
<polyline points="152.6,1244.8 153.4,1240.1 154.2,1234.4 155,1234.2 155.8,1233.9 156.6,1233.4 157.4,1232.2 158.2,1232 159,1231.2 159.8,1230.9 160.6,1230.3 161.4,1229.3 162.2,1229.6 163,1230.3 163.8,1229.7 164.6,1230.4 165.4,1231.1 166.2,1230.3 167,1230 167.8,1228.6 168.6,1228.8 169.4,1228.8 170.2,1229.5 171,1229.3 171.8,1230.6 172.6,1231.2 173.4,1232.1 174.2,1234 175,1234.4 175.8,1237.5 176.6,1238.9 177.4,1241.6 178.2,1242 179,1240 179.8,1239 180.6,1237.7 181.4,1235.8 182.2,1234.5 183,1232.4 183.8,1233 184.6,1235.9 185.4,1237.2 186.2,1238.4 187,1239.7 187.8,1241.6 188.6,1241.9 189.4,1240.8 190.2,1240.1 191,1239.8 191.8,1237.5 192.6,1237.8 193.4,1235.9 194.2,1234.7 195,1234.9 195.8,1236.7 196.6,1238.4 197.4,1241.3 198.2,1244.4 199,1241.3 199.8,1237.2 200.6,1234.4 201.4,1231.4 202.2,1232 203,1233.8 203.8,1234.9 204.6,1235.7 205.4,1235.7 206.2,1236 207,1235.9 207.8,1235.6 208.6,1235 209.4,1235 210.2,1233.8 211,1233.4 211.8,1233.5 212.6,1233.1 213.4,1233.9 214.2,1232.3 215,1234.3 215.8,1234.9 216.6,1237.1 217.4,1238.2 218.2,1236.9 219,1237.7 219.8,1238.9 220.6,1239.3 221.4,1238.6 222.2,1237.2 223,1236.6 223.8,1235.7 224.6,1234.4 225.4,1234.4 226.2,1232.6 227,1233.8 227.8,1232.8 228.6,1233.6 229.4,1232.8 230.2,1232.3 231,1234.1 231.8,1234.7 232.6,1236.1 233.4,1237.1 234.2,1239.2 235,1240.8 235.8,1240.5 236.6,1239.2 237.4,1239 238.2,1237.7 239,1236.8 239.8,1236.4 240.6,1236.1 241.4,1235 242.2,1234.6 243,1234.3 243.8,1235.5 244.6,1236.3 245.4,1238.5 246.2,1239.8 247,1244.5 247.8,1248 248.6,1245.8 249.4,1240.6 250.2,1234.9 251,1230.9 251.8,1230.7 252.6,1234 253.4,1236.2 254.2,1237 255,1238.6 255.8,1240.5 256.6,1240.4 257.4,1239.9 258.2,1239.2 259,1238 259.8,1238.3 260.6,1237.6 261.4,1239.4 262.2,1239.4 263,1238.1 263.8,1236.4 264.6,1234.8 265.4,1234.1 266.2,1234.2 267,1234.8 267.8,1235.7 268.6,1237.5 269.4,1240.1 270.2,1239.9 271,1239.4 271.8,1237.1 272.6,1236.6 273.4,1234.9 274.2,1235.7 275,1236.8 275.8,1238.1 276.6,1238 277.4,1238.1 278.2,1237.5 279,1238.2 279.8,1237.6 280.6,1238 281.4,1237.3 282.2,1237.9 283,1235.7 283.8,1235.4 284.6,1234.8 285.4,1233.1 286.2,1232.2 287,1231.9 287.8,1230.9 288.6,1231.1 289.4,1232.3 290.2,1232.7 291,1232.7 291.8,1233.9 292.6,1235 293.4,1236.3 294.2,1236.1 295,1236.8 295.8,1238.3 296.6,1238.5 297.4,1238.1 298.2,1238 299,1238.1 299.8,1237.8 300.6,1236.3 301.4,1237.1 302.2,1235.1 303,1234.1 303.8,1233.3 304.6,1231.3 305.4,1228.1 306.2,1227 307,1225.2 307.8,1223.3 308.6,1226.8 309.4,1230.8 310.2,1233.6 311,1238.7 311.8,1238.2 312.6,1237.8 313.4,1237.1 314.2,1236.8 315,1237.1 315.8,1237.4 316.6,1237.3 317.4,1236.2 318.2,1231.9 319,1230.3 319.8,1230 320.6,1231.4 321.4,1232.5 322.2,1232.9 323,1234.1 323.8,1236 324.6,1236.9 325.4,1237.5 326.2,1239.6 327,1237.1 327.8,1232.5 328.6,1230.6 329.4,1230.2 330.2,1234.5 331,1239.4 331.8,1244.3 332.6,1242.7 333.4,1241.4 334.2,1239.7 335,1239.7 335.8,1238.9 336.6,1238.6 337.4,1237.9 338.2,1237.9 339,1235.6 339.8,1234.1 340.6,1232.9 341.4,1233.9 342.2,1235.4 343,1236.8 343.8,1237 344.6,1236.3 345.4,1235.5 346.2,1235.4 347,1234.4 347.8,1237.3 348.6,1238.3 349.4,1239.5 350.2,1239 351,1237.3 351.8,1236.1 352.6,1234.1 353.4,1234.6 354.2,1234.4 355,1234.4 355.8,1236 356.6,1235.7 357.4,1236.2 358.2,1236.3 359,1236.1" fill="none" stroke="#bb1010" stroke-width="2.0" stroke-linejoin="round" />
<polyline points="455,1268 455.7,1268.5 456.4,1269.8 457.1,1269.5 457.8,1269.7 458.5,1270.4 459.2,1272.5 459.9,1274.2 460.6,1278.6 461.3,1275.4 462,1271.2 462.7,1267.3 463.4,1264 464.1,1262 464.8,1259.1 465.5,1257 466.2,1254.2 466.9,1250 467.6,1243.7 468.3,1238.9 469,1233.8 469.7,1228.9 470.4,1224.1 471.1,1218.7 471.8,1213.9 472.5,1208.9 473.2,1204.6 473.9,1200.6 474.6,1195.7 475.3,1190.7 476,1183.9 476.7,1176.9 477.4,1170 478.1,1162.5 478.8,1155.5 479.5,1147.8 480.2,1141.3 480.9,1135.7 481.6,1127.6 482.3,1121.7 483,1115.3 483.7,1108.5 484.4,1101.7 485.1,1097.4 485.8,1092.9 486.5,1088.3 487.2,1083 487.9,1079.2 488.6,1074.3 489.3,1069.3 490,1064.1 490.7,1058.7 491.4,1053.3 492.1,1047.2 492.8,1042.2 493.5,1036.8 494.2,1032 494.9,1027.4 495.6,1022.1 496.3,1017.3 497,1013 497.7,1007.4 498.4,1003.9 499.1,999.9 499.8,996.2 500.5,992 501.2,988.6 501.9,985.3 502.6,982 503.3,978.7 504,975 504.7,971.6 505.4,968.1 506.1,965.3 506.8,961.7 507.5,959.2 508.2,957.3 508.9,954.1 509.6,951.2 510.3,950 511,948.3 511.7,947 512.4,948 513.1,947.6 513.8,946.9 514.5,948.7 515.2,950.2 515.9,950.8 516.6,951.9 517.3,953.3 518,954.8 518.7,956.4 519.4,958 520.1,959.4 520.8,960.8 521.5,962.3 522.2,963.4 522.9,964 523.6,965.9 524.3,968.5 525,971 525.7,974.3 526.4,976.6 527.1,979.2 527.8,982.9 528.5,985.8 529.2,991.1 529.9,996.9 530.6,1002.5 531.3,1007.8 532,1012.2 532.7,1018.5 533.4,1023.6 534.1,1028.1 534.8,1033.3 535.5,1038.5 536.2,1042.5 536.9,1047 537.6,1053.3 538.3,1059.2 539,1065.8 539.7,1073.4 540.4,1080.4 541.1,1086.8 541.8,1094.3 542.5,1101.1 543.2,1108.5 543.9,1116.5 544.6,1124.3 545.3,1131.2 546,1139.2 546.7,1146.8 547.4,1157.2 548.1,1165 548.8,1175.1 549.5,1183.8 550.2,1193 550.9,1202.6 551.6,1211.8 552.3,1220.9 553,1229.5 553.7,1238.1 554.4,1247.1 555.1,1256.5 555.8,1265 556.5,1271 557.2,1276.2 557.9,1282 558.6,1278.8 559.3,1274.9 560,1270.9 560.7,1263.1 561.4,1251.6 562.1,1241.5 562.8,1229.2 563.5,1219.3 564.2,1209.8 564.9,1201 565.6,1191.5 566.3,1181.8 567,1172.5 567.7,1163.4 568.4,1155 569.1,1146.6 569.8,1138.6 570.5,1131.2 571.2,1121.7 571.9,1114.4 572.6,1105.8 573.3,1098.4 574,1091 574.7,1082.9 575.4,1075.5 576.1,1066.8 576.8,1060.2 577.5,1053.2 578.2,1048 578.9,1042.2 579.6,1035.4 580.3,1030.5 581,1025.2 581.7,1020.4 582.4,1015.3 583.1,1010.6 583.8,1005.3 584.5,1001.8 585.2,997.4 585.9,992 586.6,988.4 587.3,984.7 588,982.6 588.7,980.1 589.4,976.2 590.1,973.3 590.8,969.9 591.5,966.1 592.2,963.9 592.9,960.7 593.6,958.9 594.3,956.9 595,954.9 595.7,952.8 596.4,951.6 597.1,949.9 597.8,948.4 598.5,948.5 599.2,948.9 599.9,949.4 600.6,950.1 601.3,951.1 602,951.3 602.7,952.2 603.4,953.1 604.1,955 604.8,956.3 605.5,958.1 606.2,957.8 606.9,959.3 607.6,961.4 608.3,963.4 609,965.7 609.7,968.9 610.4,970.4 611.1,972.4 611.8,974.7 612.5,978.5 613.2,981.7 613.9,984.3 614.6,987.6 615.3,991.5 616,994.7 616.7,998 617.4,1003.7 618.1,1008.9 618.8,1013.2 619.5,1018.9 620.2,1024.4 620.9,1029.2 621.6,1034.9 622.3,1042.1 623,1049 623.7,1055.8 624.4,1060.7 625.1,1069.1 625.8,1074.5 626.5,1083.3 627.2,1091.4 627.9,1099.3 628.6,1106.1 629.3,1112.7 630,1120.5 630.7,1127 631.4,1133.4 632.1,1141.5 632.8,1146.2 633.5,1152.3 634.2,1156.8 634.9,1163.3 635.6,1168.9 636.3,1174.5 637,1179.4 637.7,1184.5 638.4,1190.2 639.1,1194.6 639.8,1200 640.5,1206 641.2,1210.8 641.9,1216.3 642.6,1221.6 643.3,1227.6 644,1232.9 644.7,1238.5 645.4,1245.2 646.1,1250.2 646.8,1254 647.5,1258.2 648.2,1261 648.9,1256.9 649.6,1252.6 650.3,1261.3 651,1270 651.7,1272 652.4,1268.5 653.1,1265.3 653.8,1270.1 654.5,1275 655.2,1281 655.9,1286.2 656.6,1283.7 657.3,1281.5 658,1280.3 658.7,1275.2 659.4,1271 660.1,1272.6 660.8,1275.5" fill="none" stroke="#0c1670" stroke-width="2.1" stroke-linejoin="round" />
<polyline points="467.2,1207.6 468.5,1217.8 469,1222 471,1160 471.4,1173.2 473.3,1105.5 474.8,1222.5 475,1190 477.2,1244.8 478.3,1164.5 479.5,1200 481.8,1243.5 481.9,1189 484,1240 484.8,1177.2 486.5,1286.5 487.5,1244.1 488.5,1200 490.9,1160.3 491.1,1162.7 493.5,1225 494.3,1234.7 496.6,1235.5 497.6,1183.5 499,1200 501,1235.8 502.7,1190.6 504.3,1160.2 505,1230 507.4,1235.5 507.9,1217.4 508.9,1161.2 511.4,1169.6 512,1200 514.6,1216.2 515,1190 517.3,1181.1 518.2,1221.5 519.8,1162.7 520.5,1229.8 522.5,1240 523.9,1187 525.2,1263.3 526.5,1240.5 528.5,1200 530.1,1189.1 532.1,1151.9 532.9,1232.8 535,1220 536.2,1167.1 537.6,1238.6 538.8,1216 540.7,1186 542.2,1182.7 543,1240.1 545,1180 547.4,1045 549.3,1215 551.5,1120 553.5,1240 555.3,1140 557.4,1045 559.3,1232 560.4,1170.8 561.5,1250 563.5,1255.6 563.8,1237.6 565.8,1255.6 567.1,1191.1 568,1200 569.7,1238.9 570.5,1179.8 572.5,1230 573.1,1175.3 574.3,1240 576.3,1226.3 576.7,1190.6 579,1170 579.6,1182.7 581.3,1125.6 582.9,1243.9 583.6,1190.6 585.8,1191.7 586,1215 588,1180 588.6,1216.8 590.6,1156.5 591.8,1166.8 592.9,1227.7 595,1226.9 596,1200 598.4,1172.5 599.1,1173.6 601.4,1212.3 601.5,1227.4 604.7,1182 605,1195 607.9,1231.9 609.2,1223 611.2,1177.2 613,1179.8 614.5,1223.2 614.6,1247.8 617,1230 617.2,1167.1 619.2,1240 620.7,1234.2 621.5,1167.4 624,1165 624,1200 626,1185 627.1,1240.4 629.3,1161.2 630.4,1165.2 630.8,1212.3 633,1190 633.3,1237.7 636,1230 636.7,1176.1 639.3,1181.3 639.3,1238.4 640.5,1230 641.7,1283.4" fill="none" stroke="#a8171a" stroke-width="1.9" stroke-linejoin="round" stroke-dasharray="1.8 2.2"/>
<polyline points="153.2,1567.2 154.2,1566.5 155.2,1566.3 156.2,1565.6 157.2,1565.7 158.2,1564.7 159.2,1564.5 160.2,1563.6 161.2,1563.3 162.2,1562.7 163.2,1561.4 164.2,1560.9 165.2,1560.1 166.2,1560 167.2,1559.7 168.2,1558.6 169.2,1557.3 170.2,1557.1 171.2,1555.2 172.2,1555.4 173.2,1554.3 174.2,1553.2 175.2,1554.7 176.2,1554.2 177.2,1553.2 178.2,1553.5 179.2,1553.2 180.2,1553.1 181.2,1552.4 182.2,1551.8 183.2,1551.1 184.2,1549.9 185.2,1549.5 186.2,1548.4 187.2,1548.4 188.2,1546.7 189.2,1546.4 190.2,1545 191.2,1544.7 192.2,1545 193.2,1543.6 194.2,1543.4 195.2,1542.1 196.2,1540.6 197.2,1539.8 198.2,1538.6 199.2,1537.8 200.2,1537.3 201.2,1536.4 202.2,1535.1 203.2,1534.4 204.2,1534.1 205.2,1533.2 206.2,1532.2 207.2,1531.4 208.2,1529.4 209.2,1527.5 210.2,1525.8 211.2,1523.9 212.2,1522.2 213.2,1520.8 214.2,1520 215.2,1519.1 216.2,1518.7 217.2,1517.7 218.2,1517.2 219.2,1516.3 220.2,1516.6 221.2,1515.5 222.2,1515.2 223.2,1514.1 224.2,1513.3 225.2,1511.6 226.2,1510.9 227.2,1510.6 228.2,1508.2 229.2,1508.2 230.2,1507.6 231.2,1506.5 232.2,1505.9 233.2,1505.3 234.2,1503.8 235.2,1503.4 236.2,1502.1 237.2,1501.4 238.2,1500.9 239.2,1501.3 240.2,1501.7 241.2,1502.4 242.2,1502.4 243.2,1504.2 244.2,1504.5 245.2,1504.7 246.2,1504.7 247.2,1505.1 248.2,1505.7 249.2,1506.5 250.2,1507.4 251.2,1509.9 252.2,1512.5 253.2,1513.2 254.2,1516.6 255.2,1518.7 256.2,1520.7 257.2,1523.3 258.2,1524.4 259.2,1527.6 260.2,1531 261.2,1533.3 262.2,1536 263.2,1538.9 264.2,1541.7 265.2,1546.5 266.2,1549.8 267.2,1554.3 268.2,1557.4 269.2,1562.2 270.2,1566.1 271.2,1569.2 272.2,1573.9 273.2,1577.2 274.2,1580.3 275.2,1584 276.2,1585.7 277.2,1588.3 278.2,1591.7 279.2,1593.7 280.2,1596.7 281.2,1598.7 282.2,1600.3 283.2,1602.2 284.2,1604.2 285.2,1605.6 286.2,1606.7 287.2,1608.1 288.2,1609.5 289.2,1610.2 290.2,1612 291.2,1612.3 292.2,1612.7 293.2,1613.4 294.2,1614.4 295.2,1614.8 296.2,1614.9 297.2,1614.6 298.2,1614.7 299.2,1614 300.2,1614 301.2,1614.4 302.2,1613.6 303.2,1613.5 304.2,1613.5 305.2,1613.1 306.2,1612.7 307.2,1613.2 308.2,1612.4 309.2,1611.9 310.2,1612 311.2,1611.6 312.2,1610.9 313.2,1610.9 314.2,1610.6 315.2,1609.6 316.2,1610 317.2,1610.1 318.2,1610.3 319.2,1610.2 320.2,1610.9 321.2,1611.1 322.2,1611.3 323.2,1611 324.2,1611.8 325.2,1611.3 326.2,1611.9 327.2,1612.6 328.2,1612.1 329.2,1612.4 330.2,1613.2 331.2,1612.9 332.2,1613.2 333.2,1613.6 334.2,1614.2 335.2,1613.3 336.2,1614.3 337.2,1614.7 338.2,1615.2 339.2,1615.8 340.2,1616.3 341.2,1617.2 342.2,1617.5 343.2,1618.9 344.2,1619.9 345.2,1620.5 346.2,1621.8 347.2,1623.3 348.2,1623.9 349.2,1624.6 350.2,1625.8 351.2,1626.6 352.2,1628.1 353.2,1629.4 354.2,1629.8 355.2,1631.2 356.2,1633.1 357.2,1633.9 358.2,1635.5 359.2,1636.5" fill="none" stroke="#0c1670" stroke-width="2.1" stroke-linejoin="round" />
<polyline points="153.3,1788.4 154.1,1785.2 154.8,1790.9 155.6,1794.3 156.3,1798 157.1,1791.9 157.8,1787.9 158.6,1786.2 159.3,1794.5 160.1,1799.1 160.8,1791.1 161.6,1782.3 162.3,1783.5 163.1,1797.4 163.8,1789.2 164.6,1778 165.3,1770.2 166.1,1780.5 166.8,1783.1 167.6,1783.5 168.3,1781.9 169.1,1788.3 169.8,1793.3 170.6,1779.7 171.3,1784.2 172.1,1785.4 172.8,1770.4 173.6,1777.1 174.3,1781.4 175.1,1775.3 175.8,1769.3 176.6,1760.6 177.3,1777.1 178.1,1775.9 178.8,1772.2 179.6,1776.2 180.3,1772.6 181.1,1771.5 181.8,1780 182.6,1771.6 183.3,1783.3 184.1,1779.8 184.8,1763.6 185.6,1775.3 186.3,1766.6 187.1,1772 187.8,1771 188.6,1758.7 189.3,1767.5 190.1,1766.4 190.8,1772.2 191.6,1759.7 192.3,1769.9 193.1,1759.1 193.8,1762.9 194.6,1759.6 195.3,1771.9 196.1,1766.5 196.8,1776.4 197.6,1765.9 198.3,1766.5 199.1,1766 199.8,1757.4 200.6,1759.8 201.3,1767 202.1,1756.4 202.8,1759 203.6,1757.1 204.3,1759.8 205.1,1753.6 205.8,1754.1 206.6,1755.6 207.3,1754 208.1,1747.9 208.8,1757 209.6,1744 210.3,1743.8 211.1,1742.6 211.8,1754.4 212.6,1757.3 213.3,1741.9 214.1,1740.1 214.8,1747.8 215.6,1738.6 216.3,1736.5 217.1,1746.1 217.8,1735 218.6,1738.9 219.3,1739.7 220.1,1736.3 220.8,1737.6 221.6,1744.4 222.3,1733.1 223.1,1728 223.8,1723.8 224.6,1732 225.3,1730.2 226.1,1732.4 226.8,1727.1 227.6,1725.8 228.3,1723.1 229.1,1712.5 229.8,1725.6 230.6,1721.3 231.3,1722.7 232.1,1731.6 232.8,1722.4 233.6,1709.6 234.3,1726.9 235.1,1717.9 235.8,1709.4 236.6,1718.5 237.3,1712.3 238.1,1707.5 238.8,1706.2 239.6,1702.9 240.3,1707.5 241.1,1712 241.8,1702.9 242.6,1715.6 243.3,1712.8 244.1,1694.2 244.8,1700.9 245.6,1696.1 246.3,1690.2 247.1,1688.8 247.8,1692.8 248.6,1693.6 249.3,1686.6 250.1,1688.2 250.8,1690.6 251.6,1686.9 252.3,1688.7 253.1,1685.1 253.8,1683.9 254.6,1690 255.3,1682 256.1,1678.2 256.8,1694.7 257.6,1670.2 258.3,1672.4 259.1,1678.5 259.8,1677.6 260.6,1682.7 261.3,1674.2 262.1,1653.9 262.8,1686.3 263.6,1682.2 264.3,1670.9 265.1,1685.6 265.8,1679.2 266.6,1670 267.3,1679 268.1,1679.9 268.8,1693.2 269.6,1681.5 270.3,1686.1 271.1,1687.5 271.8,1688.7 272.6,1687.7 273.3,1696.1 274.1,1702.9 274.8,1702.4 275.6,1695.7 276.3,1696.2 277.1,1705.1 277.8,1702.2 278.6,1693.7 279.3,1700.2 280.1,1722.3 280.8,1718.2 281.6,1709.4 282.3,1735.7 283.1,1725.8 283.8,1706.6 284.6,1718.7 285.3,1721.5 286.1,1739.2 286.8,1727.2 287.6,1728.7 288.3,1731.8 289.1,1744.6 289.8,1748.4 290.6,1735.5 291.3,1735.4 292.1,1757.8 292.8,1739.3 293.6,1743.1 294.3,1748 295.1,1752 295.8,1756.5 296.6,1754.4 297.3,1748.9 298.1,1758.1 298.8,1758.1 299.6,1768.7 300.3,1759.6 301.1,1753.2 301.8,1755.4 302.6,1769.9 303.3,1759.2 304.1,1751 304.8,1760 305.6,1763.8 306.3,1770.9 307.1,1759.1 307.8,1769 308.6,1770.2 309.3,1762.3 310.1,1765.7 310.8,1777.6 311.6,1778.4 312.3,1774.5 313.1,1772.6 313.8,1778.1 314.6,1771.9 315.3,1773.2 316.1,1769.9 316.8,1775.7 317.6,1776.2 318.3,1780.5 319.1,1777.6 319.8,1786.7 320.6,1787.7 321.3,1780.1 322.1,1788.4 322.8,1770.4 323.6,1783.9 324.3,1788.9 325.1,1771.4 325.8,1779.1 326.6,1792.3 327.3,1785.7 328.1,1781.7 328.8,1786.5 329.6,1786.3 330.3,1794.2 331.1,1806.3 331.8,1790.1 332.6,1788.7 333.3,1779.9 334.1,1801.3 334.8,1796.6 335.6,1799 336.3,1795.3 337.1,1789.7 337.8,1793.7 338.6,1801.9 339.3,1787.4 340.1,1793.8 340.8,1790.1 341.6,1800 342.3,1797.8 343.1,1798 343.8,1798.4 344.6,1802.1 345.3,1802.5 346.1,1806.5 346.8,1806.6 347.6,1809.1 348.3,1806.4 349.1,1800.3 349.8,1802.2 350.6,1805.5 351.3,1801.4 352.1,1806.6 352.8,1810.3 353.6,1799.8 354.3,1794.7 355.1,1811.7 355.8,1805.5 356.6,1809.7 357.3,1798.8 358.1,1816.8 358.8,1828.4 359.6,1807.9" fill="none" stroke="#cc0a0a" stroke-width="1.8" stroke-linejoin="round" />
<polyline points="467.5,1693.8 469.7,1801.9 471.5,1660.6 473.9,1768.4 475.8,1594.1 478,1706.1 480.2,1578 482.1,1723.5 484.3,1546.5 486.2,1699.8 488.2,1519.8 490.4,1631.7 492.2,1512.9 494.3,1646.7 496.5,1473.3 498.4,1646.1 500.3,1479.1 502.4,1637.9 504.4,1514.9 506.3,1671.6 508.3,1575.9 510.2,1733.3 512.4,1555.1 514.5,1775.7 516.4,1633.5 518.3,1810.6 520.6,1684.3 522.5,1830.6 524.5,1717.4 526.3,1830.6 528.1,1785.4 530.5,1830.6 532.7,1764.8 534.6,1830.6 536.8,1665 538.9,1763.4 540.8,1628.8 542.8,1752.3 545.1,1550.7 547,1707.1 548.8,1549.3 551,1636.2 553.3,1532.1 555.5,1647 557.8,1471.8 559.6,1688 561.7,1543.6 564,1709 566.3,1547.2 568.1,1692.6 570.4,1574.8 572.3,1785.3 574.2,1639.4 576.2,1777.2 578.1,1702 580.2,1830.6 582.2,1747.7 584.3,1830.6 586.1,1766.4 588.2,1830.6 590.5,1721.2 592.8,1805.8 594.9,1651.2 597.3,1791.3 599.3,1602.2 601.3,1727.2 603.6,1540.1 605.4,1698 607.7,1572.3 609.6,1652.2 611.5,1543.6 613.6,1642.2 615.8,1523.5 617.7,1617.4 619.9,1549.3 621.9,1592 623.9,1481.2 625.7,1658.7 627.7,1586.6 630,1653.3 632.3,1576.9 634.5,1696.3 636.5,1631.3 638.5,1747.9 640.3,1673.2 642.1,1801.9 644.2,1656.6 646.3,1801.9" fill="none" stroke="#a8171a" stroke-width="1.7" stroke-linejoin="round" stroke-dasharray="1.8 2.0"/>
<polyline points="466.8,1773.2 467.4,1767.1 468,1760.9 468.6,1754.7 469.2,1748.3 469.8,1742 470.4,1735.5 471,1729 471.6,1722.5 472.2,1716 472.8,1709.5 473.4,1703 474,1696.5 474.6,1690 475.2,1683.6 475.8,1677.3 476.4,1670.9 477,1664.7 477.6,1658.5 478.2,1652.5 478.8,1646.5 479.4,1640.6 480,1634.8 480.6,1629.2 481.2,1623.7 481.8,1618.3 482.4,1613 483,1607.9 483.6,1603 484.2,1598.2 484.8,1593.6 485.4,1589.1 486,1584.8 486.6,1580.8 487.2,1576.9 487.8,1573.2 488.4,1569.7 489,1566.4 489.6,1563.3 490.2,1560.4 490.8,1557.8 491.4,1555.3 492,1553.1 492.6,1551.1 493.2,1549.4 493.8,1547.9 494.4,1546.6 495,1545.5 495.6,1544.7 496.2,1544.1 496.8,1543.7 497.4,1543.6 498,1543.8 498.6,1544.3 499.2,1545.2 499.8,1546.5 500.4,1548.1 501,1550 501.6,1552.3 502.2,1554.9 502.8,1557.9 503.4,1561.2 504,1564.9 504.6,1568.8 505.2,1573.1 505.8,1577.6 506.4,1582.5 507,1587.6 507.6,1593 508.2,1598.7 508.8,1604.6 509.4,1610.8 510,1617.2 510.6,1623.8 511.2,1630.6 511.8,1637.6 512.4,1644.7 513,1652.1 513.6,1659.5 514.2,1667.1 514.8,1674.9 515.4,1682.7 516,1690.5 516.6,1698.5 517.2,1706.5 517.8,1714.5 518.4,1722.5 519,1730.4 519.6,1738.4 520.2,1746.3 520.8,1754.1 521.4,1761.8 522,1769.3 522.6,1776.7 523.2,1783.9 523.8,1790.9 524.4,1797.6 525,1804.1 525.6,1810.1 526.2,1815.8 526.8,1821 527.4,1825.5 528,1829.1 528.6,1829.9 529.2,1826.4 529.8,1821.6 530.4,1816.1 531,1809.9 531.6,1803.3 532.2,1796.3 532.8,1789 533.4,1781.3 534,1773.5 534.6,1765.4 535.2,1757.2 535.8,1748.8 536.4,1740.4 537,1731.9 537.6,1723.3 538.2,1714.8 538.8,1706.3 539.4,1697.8 540,1689.4 540.6,1681.1 541.2,1673 541.8,1664.9 542.4,1657.1 543,1649.4 543.6,1641.9 544.2,1634.7 544.8,1627.7 545.4,1621 546,1614.6 546.6,1608.4 547.2,1602.6 547.8,1597.1 548.4,1592 549,1587.2 549.6,1582.8 550.2,1578.7 550.8,1575.1 551.4,1571.9 552,1569 552.6,1566.6 553.2,1564.6 553.8,1563 554.4,1561.8 555,1561.1 555.6,1560.8 556.2,1560.9 556.8,1561.4 557.4,1562.3 558,1563.5 558.6,1565.1 559.2,1567.1 559.8,1569.4 560.4,1572.1 561,1575.1 561.6,1578.5 562.2,1582.2 562.8,1586.2 563.4,1590.6 564,1595.2 564.6,1600.2 565.2,1605.4 565.8,1610.9 566.4,1616.7 567,1622.7 567.6,1629 568.2,1635.5 568.8,1642.2 569.4,1649.1 570,1656.2 570.6,1663.5 571.2,1670.9 571.8,1678.4 572.4,1686 573,1693.7 573.6,1701.5 574.2,1709.4 574.8,1717.3 575.4,1725.2 576,1733.1 576.6,1741 577.2,1748.8 577.8,1756.5 578.4,1764.1 579,1771.6 579.6,1779 580.2,1786.1 580.8,1793 581.4,1799.7 582,1806 582.6,1812 583.2,1817.5 583.8,1822.5 584.4,1826.8 585,1830 585.6,1829.1 586.2,1825.6 586.8,1821.2 587.4,1816.1 588,1810.6 588.6,1804.7 589.2,1798.4 589.8,1791.8 590.4,1785 591,1777.9 591.6,1770.7 592.2,1763.3 592.8,1755.8 593.4,1748.1 594,1740.4 594.6,1732.6 595.2,1724.8 595.8,1717 596.4,1709.1 597,1701.3 597.6,1693.5 598.2,1685.7 598.8,1678.1 599.4,1670.5 600,1663 600.6,1655.7 601.2,1648.4 601.8,1641.4 602.4,1634.5 603,1627.7 603.6,1621.2 604.2,1614.9 604.8,1608.8 605.4,1602.9 606,1597.2 606.6,1591.8 607.2,1586.7 607.8,1581.9 608.4,1577.3 609,1573 609.6,1569 610.2,1565.3 610.8,1561.9 611.4,1558.9 612,1556.2 612.6,1553.8 613.2,1551.7 613.8,1550 614.4,1548.6 615,1547.6 615.6,1546.9 616.2,1546.5 616.8,1546.5 617.4,1546.7 618,1547.2 618.6,1547.8 619.2,1548.7 619.8,1549.9 620.4,1551.2 621,1552.8 621.6,1554.5 622.2,1556.5 622.8,1558.7 623.4,1561.2 624,1563.8 624.6,1566.6 625.2,1569.6 625.8,1572.9 626.4,1576.3 627,1579.9 627.6,1583.7 628.2,1587.7 628.8,1591.8 629.4,1596.1 630,1600.6 630.6,1605.3 631.2,1610.1 631.8,1615 632.4,1620.1 633,1625.3 633.6,1630.6 634.2,1636.1 634.8,1641.7 635.4,1647.4 636,1653.1 636.6,1659 637.2,1665 637.8,1671 638.4,1677.1 639,1683.3 639.6,1689.5 640.2,1695.7 640.8,1702 641.4,1708.3 642,1714.6 642.6,1720.9 643.2,1727.2 643.8,1733.5 644.4,1739.8 645,1746 645.6,1752.2 646.2,1758.3 646.8,1764.3 647.4,1770.3" fill="none" stroke="#0c1670" stroke-width="2.1" stroke-linejoin="round" />
<line x1="193.5" y1="2340.1" x2="193.5" y2="2351.7" stroke="#000" stroke-width="1.3"/>
<line x1="190.3" y1="2340.1" x2="196.7" y2="2340.1" stroke="#000" stroke-width="1.4"/>
<line x1="190.3" y1="2351.7" x2="196.7" y2="2351.7" stroke="#000" stroke-width="1.4"/>
<rect x="189.7" y="2341.9" width="7.6" height="8" fill="#000"/>
<line x1="217.6" y1="2339.7" x2="217.6" y2="2351.3" stroke="#000" stroke-width="1.3"/>
<line x1="214.4" y1="2339.7" x2="220.8" y2="2339.7" stroke="#000" stroke-width="1.4"/>
<line x1="214.4" y1="2351.3" x2="220.8" y2="2351.3" stroke="#000" stroke-width="1.4"/>
<rect x="213.8" y="2341.5" width="7.6" height="8" fill="#000"/>
<line x1="241.7" y1="2335.3" x2="241.7" y2="2346.9" stroke="#000" stroke-width="1.3"/>
<line x1="238.5" y1="2335.3" x2="244.9" y2="2335.3" stroke="#000" stroke-width="1.4"/>
<line x1="238.5" y1="2346.9" x2="244.9" y2="2346.9" stroke="#000" stroke-width="1.4"/>
<rect x="237.9" y="2337.1" width="7.6" height="8" fill="#000"/>
<line x1="265.8" y1="2334.3" x2="265.8" y2="2350.1" stroke="#000" stroke-width="1.3"/>
<line x1="262.6" y1="2334.3" x2="269" y2="2334.3" stroke="#000" stroke-width="1.4"/>
<line x1="262.6" y1="2350.1" x2="269" y2="2350.1" stroke="#000" stroke-width="1.4"/>
<rect x="262" y="2338.2" width="7.6" height="8" fill="#000"/>
<line x1="289.9" y1="2327.6" x2="289.9" y2="2345.2" stroke="#000" stroke-width="1.3"/>
<line x1="286.7" y1="2327.6" x2="293.1" y2="2327.6" stroke="#000" stroke-width="1.4"/>
<line x1="286.7" y1="2345.2" x2="293.1" y2="2345.2" stroke="#000" stroke-width="1.4"/>
<rect x="286.1" y="2332.4" width="7.6" height="8" fill="#000"/>
<line x1="313.9" y1="2319.6" x2="313.9" y2="2337.2" stroke="#000" stroke-width="1.3"/>
<line x1="310.7" y1="2319.6" x2="317.1" y2="2319.6" stroke="#000" stroke-width="1.4"/>
<line x1="310.7" y1="2337.2" x2="317.1" y2="2337.2" stroke="#000" stroke-width="1.4"/>
<rect x="310.1" y="2324.4" width="7.6" height="8" fill="#000"/>
<line x1="338" y1="2309.3" x2="338" y2="2326.9" stroke="#000" stroke-width="1.3"/>
<line x1="334.8" y1="2309.3" x2="341.2" y2="2309.3" stroke="#000" stroke-width="1.4"/>
<line x1="334.8" y1="2326.9" x2="341.2" y2="2326.9" stroke="#000" stroke-width="1.4"/>
<rect x="334.2" y="2314.1" width="7.6" height="8" fill="#000"/>
<line x1="362.1" y1="2295.8" x2="362.1" y2="2313.4" stroke="#000" stroke-width="1.3"/>
<line x1="358.9" y1="2295.8" x2="365.3" y2="2295.8" stroke="#000" stroke-width="1.4"/>
<line x1="358.9" y1="2313.4" x2="365.3" y2="2313.4" stroke="#000" stroke-width="1.4"/>
<rect x="358.3" y="2300.6" width="7.6" height="8" fill="#000"/>
<line x1="386.2" y1="2278.6" x2="386.2" y2="2296.2" stroke="#000" stroke-width="1.3"/>
<line x1="383" y1="2278.6" x2="389.4" y2="2278.6" stroke="#000" stroke-width="1.4"/>
<line x1="383" y1="2296.2" x2="389.4" y2="2296.2" stroke="#000" stroke-width="1.4"/>
<rect x="382.4" y="2283.4" width="7.6" height="8" fill="#000"/>
<line x1="410.3" y1="2261.8" x2="410.3" y2="2279.4" stroke="#000" stroke-width="1.3"/>
<line x1="407.1" y1="2261.8" x2="413.5" y2="2261.8" stroke="#000" stroke-width="1.4"/>
<line x1="407.1" y1="2279.4" x2="413.5" y2="2279.4" stroke="#000" stroke-width="1.4"/>
<rect x="406.5" y="2266.6" width="7.6" height="8" fill="#000"/>
<line x1="434.4" y1="2243.4" x2="434.4" y2="2261" stroke="#000" stroke-width="1.3"/>
<line x1="431.2" y1="2243.4" x2="437.6" y2="2243.4" stroke="#000" stroke-width="1.4"/>
<line x1="431.2" y1="2261" x2="437.6" y2="2261" stroke="#000" stroke-width="1.4"/>
<rect x="430.6" y="2248.2" width="7.6" height="8" fill="#000"/>
<line x1="458.5" y1="2222.6" x2="458.5" y2="2240.2" stroke="#000" stroke-width="1.3"/>
<line x1="455.3" y1="2222.6" x2="461.7" y2="2222.6" stroke="#000" stroke-width="1.4"/>
<line x1="455.3" y1="2240.2" x2="461.7" y2="2240.2" stroke="#000" stroke-width="1.4"/>
<rect x="454.7" y="2227.4" width="7.6" height="8" fill="#000"/>
<line x1="482.6" y1="2198.5" x2="482.6" y2="2216.1" stroke="#000" stroke-width="1.3"/>
<line x1="479.4" y1="2198.5" x2="485.8" y2="2198.5" stroke="#000" stroke-width="1.4"/>
<line x1="479.4" y1="2216.1" x2="485.8" y2="2216.1" stroke="#000" stroke-width="1.4"/>
<rect x="478.8" y="2203.3" width="7.6" height="8" fill="#000"/>
<line x1="506.7" y1="2178.4" x2="506.7" y2="2196" stroke="#000" stroke-width="1.3"/>
<line x1="503.5" y1="2178.4" x2="509.9" y2="2178.4" stroke="#000" stroke-width="1.4"/>
<line x1="503.5" y1="2196" x2="509.9" y2="2196" stroke="#000" stroke-width="1.4"/>
<rect x="502.9" y="2183.2" width="7.6" height="8" fill="#000"/>
<line x1="530.8" y1="2147.1" x2="530.8" y2="2164.7" stroke="#000" stroke-width="1.3"/>
<line x1="527.5" y1="2147.1" x2="534" y2="2147.1" stroke="#000" stroke-width="1.4"/>
<line x1="527.5" y1="2164.7" x2="534" y2="2164.7" stroke="#000" stroke-width="1.4"/>
<rect x="527" y="2151.9" width="7.6" height="8" fill="#000"/>
<line x1="554.8" y1="2120.3" x2="554.8" y2="2137.9" stroke="#000" stroke-width="1.3"/>
<line x1="551.6" y1="2120.3" x2="558" y2="2120.3" stroke="#000" stroke-width="1.4"/>
<line x1="551.6" y1="2137.9" x2="558" y2="2137.9" stroke="#000" stroke-width="1.4"/>
<rect x="551" y="2125.1" width="7.6" height="8" fill="#000"/>
<line x1="578.9" y1="2087.9" x2="578.9" y2="2105.5" stroke="#000" stroke-width="1.3"/>
<line x1="575.7" y1="2087.9" x2="582.1" y2="2087.9" stroke="#000" stroke-width="1.4"/>
<line x1="575.7" y1="2105.5" x2="582.1" y2="2105.5" stroke="#000" stroke-width="1.4"/>
<rect x="575.1" y="2092.7" width="7.6" height="8" fill="#000"/>
<line x1="603" y1="2039.9" x2="603" y2="2057.5" stroke="#000" stroke-width="1.3"/>
<line x1="599.8" y1="2039.9" x2="606.2" y2="2039.9" stroke="#000" stroke-width="1.4"/>
<line x1="599.8" y1="2057.5" x2="606.2" y2="2057.5" stroke="#000" stroke-width="1.4"/>
<rect x="599.2" y="2044.7" width="7.6" height="8" fill="#000"/>
<polyline points="169.4,2358.1 173.3,2358.1 177.2,2358 181.1,2357.9 185,2357.7 188.9,2357.5 192.8,2357.2 196.7,2356.9 200.6,2356.6 204.5,2356.2 208.4,2355.7 212.3,2355.2 216.2,2354.7 220.1,2354.1 224,2353.5 227.9,2352.8 231.8,2352 235.7,2351.3 239.6,2350.4 243.5,2349.6 247.4,2348.6 251.3,2347.7 255.2,2346.6 259.1,2345.6 263,2344.5 266.9,2343.3 270.8,2342.1 274.7,2340.8 278.6,2339.5 282.5,2338.2 286.4,2336.8 290.3,2335.4 294.2,2333.9 298.1,2332.3 302,2330.7 305.9,2329.1 309.8,2327.4 313.7,2325.7 317.6,2323.9 321.5,2322.1 325.4,2320.2 329.3,2318.3 333.2,2316.3 337.1,2314.3 341,2312.3 344.9,2310.2 348.8,2308 352.6,2305.8 356.5,2303.6 360.4,2301.3 364.3,2298.9 368.2,2296.5 372.1,2294.1 376,2291.6 379.9,2289.1 383.8,2286.5 387.7,2283.9 391.6,2281.2 395.5,2278.5 399.4,2275.7 403.3,2272.9 407.2,2270 411.1,2267.1 415,2264.1 418.9,2261.1 422.8,2258.1 426.7,2255 430.6,2251.8 434.5,2248.6 438.4,2245.4 442.3,2242.1 446.2,2238.8 450.1,2235.4 454,2232 457.9,2228.5 461.8,2224.9 465.7,2221.4 469.6,2217.8 473.5,2214.1 477.4,2210.4 481.3,2206.6 485.2,2202.8 489.1,2198.9 493,2195 496.9,2191.1 500.8,2187.1 504.7,2183 508.6,2178.9 512.5,2174.8 516.4,2170.6 520.3,2166.4 524.2,2162.1 528.1,2157.7 532,2153.4 535.9,2148.9 539.8,2144.5 543.7,2139.9 547.6,2135.4 551.5,2130.8 555.4,2126.1 559.3,2121.4 563.2,2116.6 567.1,2111.8 571,2107 574.9,2102.1 578.8,2097.1 582.7,2092.1 586.6,2087.1 590.5,2082 594.4,2076.9 598.3,2071.7 602.2,2066.4 606.1,2061.2 610,2055.8 613.9,2050.5 617.8,2045 621.7,2039.6 625.6,2034.1 629.5,2028.5 633.4,2022.9" fill="none" stroke="#ee1111" stroke-width="3.0" stroke-linejoin="round" />
</svg></body></html>
